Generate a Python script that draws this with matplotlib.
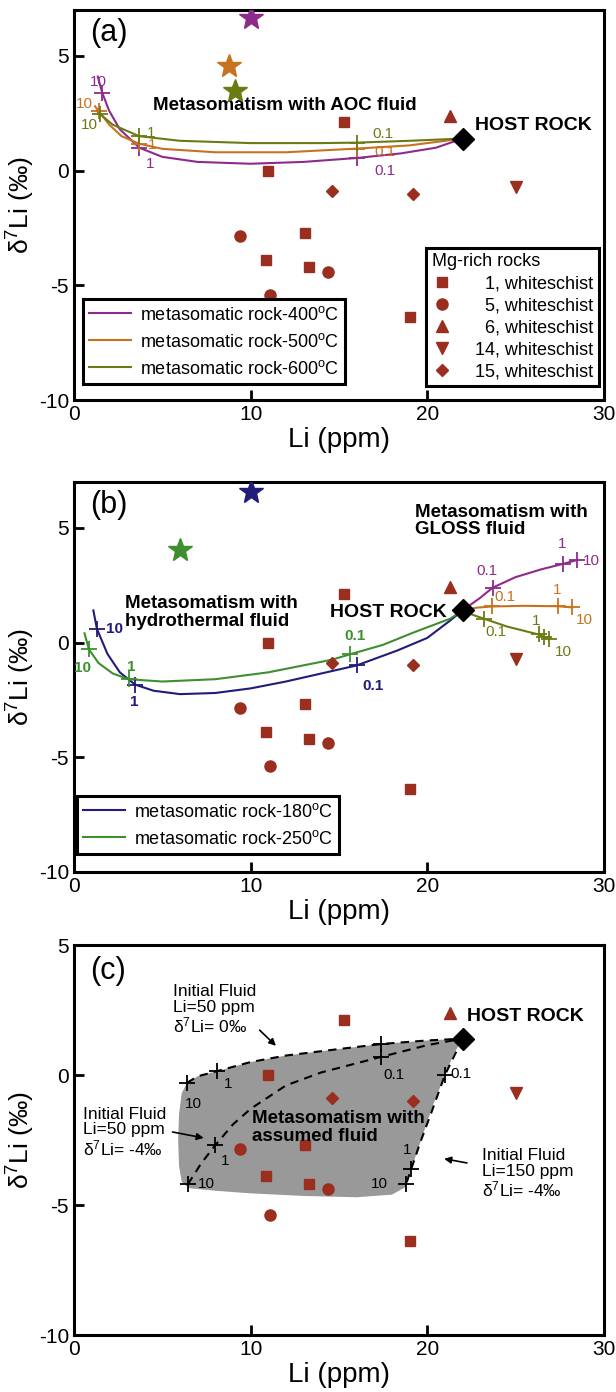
import matplotlib
matplotlib.use("Agg")
import matplotlib.pyplot as plt
import numpy as np

plt.rcParams['font.family'] = ['Liberation Sans', 'DejaVu Sans']
plt.rcParams['mathtext.fontset'] = 'custom'
plt.rcParams['mathtext.rm'] = 'Liberation Sans'
plt.rcParams['mathtext.it'] = 'Liberation Sans:italic'
plt.rcParams['mathtext.bf'] = 'Liberation Sans:bold'
plt.rcParams['axes.unicode_minus'] = False

#	Mg-rich rocks (Li ppm, d7Li permil)
sq_li = [15.3, 11.0, 10.9, 13.1, 13.3, 19.0]
sq_d = [2.1, 0.0, -3.9, -2.7, -4.2, -6.4]
ci_li = [9.4, 11.1, 14.4]
ci_d = [-2.85, -5.4, -4.4]
tu_li = [21.3]
tu_d = [2.4]
td_li = [25.0]
td_d = [-0.7]
di_li = [14.6, 19.2]
di_d = [-0.9, -1.0]
host = (22.0, 1.4)

#	(a) AOC fluid curves
a400_li = [1.35, 1.6, 2.0, 2.6, 3.7, 5.0, 7.0, 10.0, 13.0, 16.0, 18.5, 20.5, 22.0]
a400_d = [4.1, 3.4, 2.6, 1.8, 1.0, 0.6, 0.38, 0.3, 0.38, 0.55, 0.75, 1.0, 1.4]
a500_li = [1.2, 1.4, 2.0, 2.7, 3.7, 5.0, 8.0, 12.0, 16.0, 19.0, 22.0]
a500_d = [2.8, 2.6, 2.0, 1.5, 1.17, 0.95, 0.8, 0.8, 0.96, 1.1, 1.4]
a600_li = [1.3, 1.5, 2.2, 3.7, 6.0, 10.0, 14.0, 16.0, 19.0, 22.0]
a600_d = [2.6, 2.45, 2.0, 1.5, 1.3, 1.2, 1.2, 1.22, 1.3, 1.4]
a400_tk = ([1.6, 3.7, 16.0], [3.4, 1.0, 0.55])
a500_tk = ([1.4, 3.7, 16.0], [2.6, 1.17, 0.96])
a600_tk = ([1.5, 3.7, 16.0], [2.45, 1.5, 1.22])
a_stars = ([10.0, 8.8, 9.1], [6.65, 4.57, 3.48])

#	(b) hydrothermal and GLOSS fluid curves
b180_li = [1.1, 1.3, 1.9, 2.6, 3.45, 4.5, 6.0, 8.0, 10.0, 12.0, 14.0, 16.0, 18.3, 20.0, 21.3, 22.0]
b180_d = [1.4, 0.6, -0.5, -1.3, -1.83, -2.1, -2.25, -2.2, -2.0, -1.7, -1.35, -1.0, -0.35, 0.2, 0.96, 1.4]
b250_li = [0.6, 0.85, 1.4, 2.2, 3.1, 5.0, 8.0, 11.0, 14.6, 15.6, 17.5, 19.2, 21.3, 22.0]
b250_d = [0.4, -0.3, -0.9, -1.35, -1.6, -1.7, -1.6, -1.3, -0.75, -0.52, -0.1, 0.43, 1.04, 1.4]
b180_tk = ([1.3, 3.45, 16.0], [0.6, -1.83, -1.0])
b250_tk = ([0.85, 3.1, 15.6], [-0.3, -1.6, -0.52])
g400_li = [22.0, 23.0, 23.7, 25.0, 26.5, 27.7, 28.5]
g400_d = [1.4, 1.95, 2.39, 2.85, 3.2, 3.43, 3.6]
g500_li = [22.0, 22.8, 23.65, 25.5, 27.4, 28.2]
g500_d = [1.4, 1.52, 1.57, 1.6, 1.58, 1.53]
g600_li = [22.0, 22.6, 23.2, 24.5, 26.3, 26.6, 26.9]
g600_d = [1.4, 1.2, 1.04, 0.7, 0.35, 0.25, 0.17]
g400_tk = ([23.7, 27.7, 28.5], [2.39, 3.43, 3.6])
g500_tk = ([23.65, 27.4, 28.2], [1.57, 1.57, 1.53])
g600_tk = ([23.2, 26.3, 26.6, 26.9], [1.04, 0.35, 0.25, 0.17])
b_stars = ([10.0, 6.0], [6.57, 4.04])

#	(c) assumed fluid field
field_li = [22.0, 20.0, 17.5, 15.0, 12.0, 10.0, 8.1, 7.0, 6.4, 6.1, 5.95, 5.9, 5.95, 6.1, 6.5,
            8.0, 10.0, 13.0, 16.0, 18.0, 18.8, 19.1, 19.6, 20.3, 21.0, 21.5]
field_d = [1.4, 1.33, 1.2, 1.0, 0.75, 0.5, 0.15, -0.05, -0.3, -0.7, -1.5, -2.5, -3.5, -4.1, -4.35,
           -4.45, -4.55, -4.65, -4.7, -4.6, -4.3, -3.6, -2.6, -1.2, 0.0, 0.8]
top_li = [6.4, 7.0, 8.1, 10.0, 12.0, 15.0, 17.5, 20.0, 22.0]
top_d = [-0.3, -0.05, 0.15, 0.5, 0.75, 1.0, 1.2, 1.33, 1.4]
mid_li = [6.45, 7.2, 8.0, 9.0, 10.0, 12.0, 14.0, 17.4, 20.0, 22.0]
mid_d = [-4.2, -3.4, -2.7, -1.9, -1.3, -0.4, 0.1, 0.7, 1.15, 1.4]
rgt_li = [22.0, 21.0, 20.2, 19.6, 19.1, 18.8]
rgt_d = [1.4, 0.0, -1.5, -2.6, -3.6, -4.2]
c_tk = ([6.4, 8.1, 17.4, 17.4, 8.0, 6.45, 21.0, 19.1, 18.8], [-0.3, 0.15, 1.2, 0.7, -2.7, -4.2, 0.0, -3.6, -4.2])

RED = '#9a2e1f'
PUR = '#8e2a8c'
ORA = '#c7721f'
OLI = '#6b7b14'
NAV = '#211c78'
GRN = '#3d8f30'

fig = plt.figure(figsize=(6.16, 13.92), dpi=100)
axA = fig.add_axes([0.120, 0.7126, 0.8604, 0.2802])
axB = fig.add_axes([0.120, 0.3736, 0.8604, 0.2802])
axC = fig.add_axes([0.120, 0.0409, 0.8604, 0.2802])

ylab = 'δ$^\\mathregular{7}$Li (‰)'


def setup(ax, ylo, yhi):
	ax.set_xlim(0, 30)
	ax.set_ylim(ylo, yhi)
	ax.set_xticks([0, 10, 20, 30])
	ax.set_yticks([-10, -5, 0, 5])
	ax.tick_params(direction='in', length=7, width=2, labelsize=15, top=False, right=False)
	for s in ax.spines.values():
		s.set_linewidth(2.2)
	ax.set_xlabel('Li (ppm)', fontsize=20, labelpad=2)
	ax.set_ylabel(ylab, fontsize=19)
	ax.yaxis.set_label_coords(-0.07, 0.5)


def rocks(ax):
	ms = 7
	h = []
	h.append(ax.plot(sq_li, sq_d, 's', color=RED, ms=ms, ls='none', label='  1, whiteschist', zorder=5)[0])
	h.append(ax.plot(ci_li, ci_d, 'o', color=RED, ms=ms + 1, ls='none', label='  5, whiteschist', zorder=5)[0])
	h.append(ax.plot(tu_li, tu_d, '^', color=RED, ms=ms + 1, ls='none', label='  6, whiteschist', zorder=5)[0])
	h.append(ax.plot(td_li, td_d, 'v', color=RED, ms=ms + 1, ls='none', label='14, whiteschist', zorder=5)[0])
	h.append(ax.plot(di_li, di_d, 'D', color=RED, ms=ms - 0.5, ls='none', label='15, whiteschist', zorder=5)[0])
	ax.plot(*host, 'D', color='black', ms=11, zorder=6)
	return h


def ticks(ax, tk, c):
	ax.plot(tk[0], tk[1], '+', color=c, ms=11, mew=1.3, ls='none', zorder=4)


def frame(leg):
	f = leg.get_frame()
	f.set_edgecolor('black')
	f.set_linewidth(2.2)


#	(a)
setup(axA, -10, 7)
h = rocks(axA)
l400, = axA.plot(a400_li, a400_d, color=PUR, lw=1.5, label='metasomatic rock-400$^\\mathregular{o}$C')
l500, = axA.plot(a500_li, a500_d, color=ORA, lw=1.5, label='metasomatic rock-500$^\\mathregular{o}$C')
l600, = axA.plot(a600_li, a600_d, color=OLI, lw=1.5, label='metasomatic rock-600$^\\mathregular{o}$C')
ticks(axA, a400_tk, PUR)
ticks(axA, a500_tk, ORA)
ticks(axA, a600_tk, OLI)
for x, y, c in zip(a_stars[0], a_stars[1], [PUR, ORA, OLI]):
	axA.plot(x, y, '*', color=c, ms=18, zorder=5)
fs = 11
for (x, y, t) in [(0.9, 3.85, '10'), (4.1, 0.3, '1'), (17.0, 0.0, '0.1')]:
	axA.text(x, y, t, color=PUR, fontsize=fs, ha='left', va='center')
for (x, y, t) in [(0.1, 2.9, '10'), (4.2, 1.1, '1'), (17.0, 0.83, '0.1')]:
	axA.text(x, y, t, color=ORA, fontsize=fs, ha='left', va='center')
for (x, y, t) in [(0.4, 2.0, '10'), (4.15, 1.62, '1'), (16.9, 1.6, '0.1')]:
	axA.text(x, y, t, color=OLI, fontsize=fs, ha='left', va='center')
axA.text(0.9, 6.0, '(a)', fontsize=22, va='center')
axA.text(4.5, 2.83, 'Metasomatism with AOC fluid', fontsize=13.5, fontweight='bold', va='center')
axA.text(22.7, 1.96, 'HOST ROCK', fontsize=14, fontweight='bold', va='center')
legA = axA.legend(handles=[l400, l500, l600], loc='lower left', bbox_to_anchor=(0.017, 0.041), borderaxespad=0,
                  fontsize=13, fancybox=False, framealpha=1, handlelength=2.3, labelspacing=0.5,
                  handletextpad=0.5, borderpad=0.35)
frame(legA)
axA.add_artist(legA)
legM = axA.legend(handles=h, loc='lower right', bbox_to_anchor=(0.99, 0.036), borderaxespad=0,
                  fontsize=13, fancybox=False, framealpha=1, title='Mg-rich rocks', title_fontsize=13,
                  alignment='left', handletextpad=1.2, labelspacing=0.28, borderpad=0.3, handlelength=1.2)
frame(legM)

#	(b)
setup(axB, -10, 7)
rocks(axB)
l180, = axB.plot(b180_li, b180_d, color=NAV, lw=1.5, label='metasomatic rock-180$^\\mathregular{o}$C')
l250, = axB.plot(b250_li, b250_d, color=GRN, lw=1.5, label='metasomatic rock-250$^\\mathregular{o}$C')
axB.plot(g400_li, g400_d, color=PUR, lw=1.5)
axB.plot(g500_li, g500_d, color=ORA, lw=1.5)
axB.plot(g600_li, g600_d, color=OLI, lw=1.5)
ticks(axB, b180_tk, NAV)
ticks(axB, b250_tk, GRN)
ticks(axB, g400_tk, PUR)
ticks(axB, g500_tk, ORA)
ticks(axB, g600_tk, OLI)
for x, y, c in zip(b_stars[0], b_stars[1], [NAV, GRN]):
	axB.plot(x, y, '*', color=c, ms=18, zorder=5)
for (x, y, t) in [(1.8, 0.6, '10'), (3.2, -2.6, '1'), (16.3, -1.9, '0.1')]:
	axB.text(x, y, t, color=NAV, fontsize=fs, fontweight='bold', ha='left', va='center')
for (x, y, t) in [(0.0, -1.13, '10'), (3.0, -1.05, '1'), (15.3, 0.3, '0.1')]:
	axB.text(x, y, t, color=GRN, fontsize=fs, fontweight='bold', ha='left', va='center')
for (x, y, t) in [(22.8, 3.1, '0.1'), (27.4, 4.3, '1'), (28.8, 3.55, '10')]:
	axB.text(x, y, t, color=PUR, fontsize=fs, ha='left', va='center')
for (x, y, t) in [(23.8, 2.0, '0.1'), (27.1, 2.3, '1'), (28.4, 1.0, '10')]:
	axB.text(x, y, t, color=ORA, fontsize=fs, ha='left', va='center')
for (x, y, t) in [(23.3, 0.45, '0.1'), (25.9, 0.95, '1'), (27.2, -0.4, '10')]:
	axB.text(x, y, t, color=OLI, fontsize=fs, ha='left', va='center')
axB.text(0.9, 6.0, '(b)', fontsize=22, va='center')
axB.text(2.9, 1.3, 'Metasomatism with\nhydrothermal fluid', fontsize=13.5, fontweight='bold',
         va='center', linespacing=1.05)
axB.text(19.3, 5.3, 'Metasomatism with\nGLOSS fluid', fontsize=13.5, fontweight='bold',
         va='center', linespacing=1.05)
axB.text(21.1, 1.3, 'HOST ROCK', fontsize=14, fontweight='bold', va='center', ha='right')
legB = axB.legend(handles=[l180, l250], loc='lower left', bbox_to_anchor=(0.006, 0.046), borderaxespad=0,
                  fontsize=13, fancybox=False, framealpha=1, handlelength=2.3, labelspacing=0.5,
                  handletextpad=0.5, borderpad=0.35)
frame(legB)

#	(c)
setup(axC, -10, 5)
axC.fill(field_li, field_d, color='#999999', lw=0, zorder=1)
for xs, ys in [(top_li, top_d), (mid_li, mid_d), (rgt_li, rgt_d)]:
	axC.plot(xs, ys, color='black', lw=1.5, ls=(0, (4, 3)), zorder=2)
rocks(axC)
ticks(axC, c_tk, 'black')
for (x, y, t) in [(6.3, -1.1, '10'), (8.5, -0.35, '1'), (17.5, 0.0, '0.1'), (8.3, -3.3, '1'),
                  (7.0, -4.2, '10'), (21.3, 0.05, '0.1'), (18.6, -2.9, '1'), (16.8, -4.2, '10')]:
	axC.text(x, y, t, color='black', fontsize=fs, ha='left', va='center')
axC.text(0.9, 4.0, '(c)', fontsize=22, va='center')
axC.text(10.1, -2.02, 'Metasomatism with\nassumed fluid', fontsize=13.5, fontweight='bold',
         va='center', linespacing=1.1, zorder=7)
axC.text(22.25, 2.25, 'HOST ROCK', fontsize=14, fontweight='bold', va='center')
d7 = 'δ$^\\mathregular{7}$Li= '
axC.text(5.6, 2.5, 'Initial Fluid\nLi=50 ppm\n' + d7 + '0‰', fontsize=12.5, va='center', linespacing=1.05)
axC.text(0.5, -2.2, 'Initial Fluid\nLi=50 ppm\n' + d7 + '-4‰', fontsize=12.5, va='center', linespacing=1.05)
axC.text(23.1, -3.8, 'Initial Fluid\nLi=150 ppm\n' + d7 + '-4‰', fontsize=12.5, va='center', linespacing=1.05)
arw = dict(arrowstyle='-|>', color='black', lw=1.2, mutation_scale=10)
axC.annotate('', xy=(11.55, 1.05), xytext=(10.4, 1.8), arrowprops=arw)
axC.annotate('', xy=(7.5, -2.44), xytext=(5.43, -2.17), arrowprops=arw)
axC.annotate('', xy=(20.8, -3.2), xytext=(22.4, -3.4), arrowprops=arw)

fig.savefig('out.png', dpi=100)
